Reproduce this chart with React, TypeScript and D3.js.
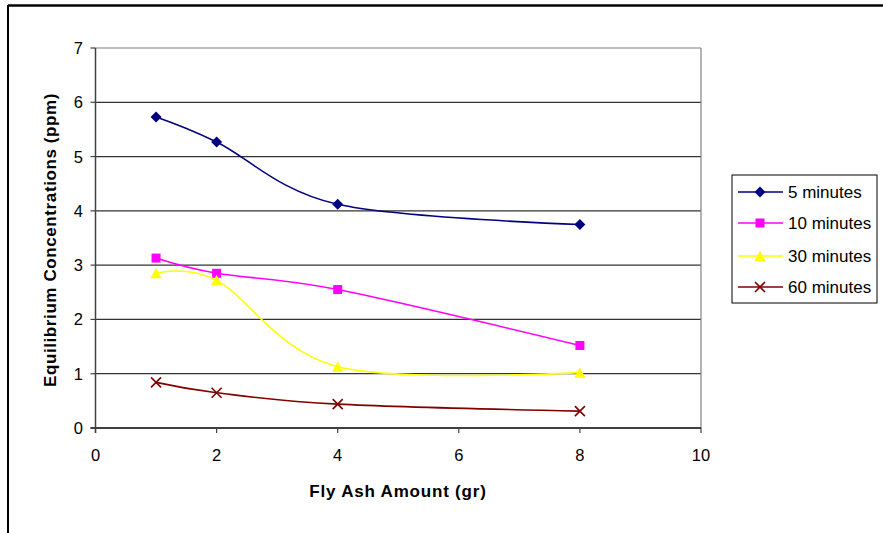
import React from "react";
import * as d3 from "d3";

// Fly ash amount (g) tested at each contact time
const flyAsh = [1, 2, 4, 8];

// Equilibrium concentrations (ppm) per contact time
const conc5 = [5.73, 5.27, 4.12, 3.75];
const conc10 = [3.13, 2.85, 2.55, 1.52];
const conc30 = [2.85, 2.72, 1.13, 1.02];
const conc60 = [0.84, 0.65, 0.44, 0.31];

const seriesNames = ["5 minutes", "10 minutes", "30 minutes", "60 minutes"];
const seriesColors = ["#000080", "#FF00FF", "#FFFF00", "#800000"];
const seriesMarkers = ["diamond", "square", "triangle", "cross"];

const xTicks = [0, 2, 4, 6, 8, 10];
const yTicks = [0, 1, 2, 3, 4, 5, 6, 7];

const W = 883;
const H = 533;
const left = 95.5;
const right = 701;
const top = 48;
const bottom = 428;

const FONT = "'Liberation Sans', Arial, sans-serif";

function Marker({ kind, x, y, color }: { kind: string; x: number; y: number; color: string }) {
  if (kind === "diamond") {
    const s = 5.5;
    return (
      <path
        d={`M${x},${y - s}L${x + s},${y}L${x},${y + s}L${x - s},${y}Z`}
        fill={color}
      />
    );
  }
  if (kind === "square") {
    const s = 4.5;
    return <rect x={x - s} y={y - s} width={2 * s} height={2 * s} fill={color} />;
  }
  if (kind === "triangle") {
    const s = 5.5;
    return (
      <path d={`M${x},${y - s}L${x + s},${y + s - 0.5}L${x - s},${y + s - 0.5}Z`} fill={color} />
    );
  }
  const s = 5;
  return (
    <path
      d={`M${x - s},${y - s}L${x + s},${y + s}M${x - s},${y + s}L${x + s},${y - s}`}
      stroke={color}
      strokeWidth={1.6}
      fill="none"
    />
  );
}

export default function App() {
  const x = d3.scaleLinear().domain([0, 10]).range([left, right]);
  const y = d3.scaleLinear().domain([0, 7]).range([bottom, top]);

  const allSeries = [conc5, conc10, conc30, conc60];

  const line = d3
    .line<[number, number]>()
    .x((d) => x(d[0]))
    .y((d) => y(d[1]))
    .curve(d3.curveCardinal.tension(0));

  const legendX = 732;
  const legendY = 175;
  const legendRows = [192, 223, 256, 287];

  return (
    <svg
      width={W}
      height={H}
      style={{ position: "absolute", left: 0, top: 0, background: "#fff" }}
      fontFamily={FONT}
    >
      {/* outer frame */}
      <line x1={8} y1={5.5} x2={W} y2={5.5} stroke="#000" strokeWidth={2.5} />
      <line x1={8} y1={5} x2={8} y2={H} stroke="#000" strokeWidth={2} />

      {/* gridlines */}
      {yTicks.map((t) =>
        t === 0 ? null : (
          <line
            key={`g${t}`}
            x1={left}
            x2={right}
            y1={y(t)}
            y2={y(t)}
            stroke={t === 7 ? "#808080" : "#333"}
            strokeWidth={1.2}
          />
        )
      )}
      {/* plot area right edge */}
      <line x1={right} x2={right} y1={top} y2={bottom} stroke="#808080" strokeWidth={1.2} />

      {/* axes */}
      <line x1={left} x2={left} y1={top} y2={bottom + 5} stroke="#404040" strokeWidth={1.5} />
      <line x1={left - 5} x2={right} y1={bottom} y2={bottom} stroke="#404040" strokeWidth={1.8} />
      {yTicks.map((t) => (
        <g key={`yt${t}`}>
          <line x1={left - 5} x2={left} y1={y(t)} y2={y(t)} stroke="#404040" strokeWidth={1.2} />
          <text x={83} y={y(t) + 6} textAnchor="end" fontSize={16.5} fill="#000">
            {t}
          </text>
        </g>
      ))}
      {xTicks.map((t) => (
        <g key={`xt${t}`}>
          <line x1={x(t)} x2={x(t)} y1={bottom} y2={bottom + 5} stroke="#404040" strokeWidth={1.2} />
          <text x={x(t)} y={461} textAnchor="middle" fontSize={16.5} fill="#000">
            {t}
          </text>
        </g>
      ))}

      {/* axis titles */}
      <text
        x={398}
        y={497}
        textAnchor="middle"
        fontSize={17}
        fontWeight="bold"
        letterSpacing={0.8}
        fill="#000"
      >
        Fly Ash Amount (gr)
      </text>
      <text
        transform={`translate(56,240) rotate(-90)`}
        textAnchor="middle"
        fontSize={17}
        fontWeight="bold"
        letterSpacing={0.6}
        fill="#000"
      >
        Equilibrium Concentrations (ppm)
      </text>

      {/* series */}
      {allSeries.map((vals, i) => {
        const pts = flyAsh.map((a, j) => [a, vals[j]] as [number, number]);
        return (
          <g key={`s${i}`}>
            <path d={line(pts) || ""} fill="none" stroke={seriesColors[i]} strokeWidth={1.6} />
            {pts.map((p, j) => (
              <Marker key={j} kind={seriesMarkers[i]} x={x(p[0])} y={y(p[1])} color={seriesColors[i]} />
            ))}
          </g>
        );
      })}

      {/* legend */}
      <rect x={legendX} y={legendY} width={145} height={128} fill="#fff" stroke="#000" strokeWidth={1} />
      {seriesNames.map((name, i) => (
        <g key={`l${i}`}>
          <line x1={738} x2={783} y1={legendRows[i]} y2={legendRows[i]} stroke={seriesColors[i]} strokeWidth={1.6} />
          <Marker kind={seriesMarkers[i]} x={760} y={legendRows[i]} color={seriesColors[i]} />
          <text x={788} y={legendRows[i] + 6} fontSize={17} fill="#000">
            {name}
          </text>
        </g>
      ))}
    </svg>
  );
}
